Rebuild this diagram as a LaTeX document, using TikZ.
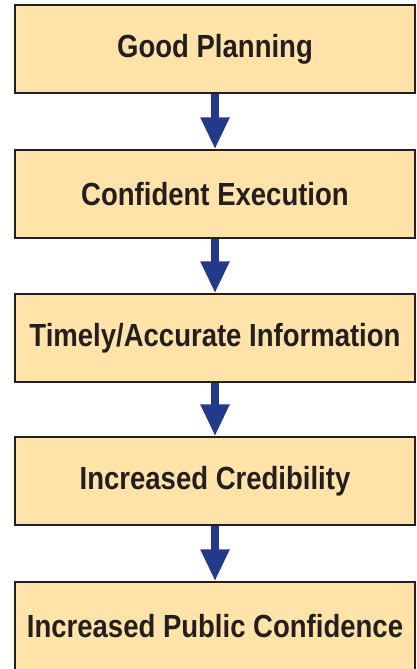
\documentclass[tikz,border=0pt]{standalone}
\usepackage{fontspec}
\setmainfont{Liberation Sans}[FakeStretch=0.86]
\usepackage{xcolor}
\usetikzlibrary{arrows.meta}
\definecolor{boxfill}{HTML}{FFE3A9}
\definecolor{boxline}{HTML}{231F20}
\definecolor{flow}{HTML}{233A8C}
\tikzset{
  stage/.style={draw=boxline, fill=boxfill, line width=1.3pt, minimum width=400pt,
    minimum height=88pt, inner sep=0pt, font=\fontsize{32}{36}\selectfont\bfseries, text=boxline},
  lead/.style={draw=flow, line width=8pt, -{Triangle[length=32pt,width=27pt]}},
}
\begin{document}
\begin{tikzpicture}[x=1pt,y=1pt]
  \useasboundingbox (0,0) rectangle (417,-669);

  \node[stage] (plan) at (215,-49)  {Good Planning};
  \node[stage] (exec) at (215,-194) {Confident Execution};
  \node[stage] (info) at (215,-338) {Timely/Accurate Information};
  \node[stage] (cred) at (215,-481) {Increased Credibility};
  \node[stage] (conf) at (215,-626) {Increased Public Confidence};

  \draw[lead] (plan.south) -- (exec.north);
  \draw[lead] (exec.south) -- (info.north);
  \draw[lead] (info.south) -- (cred.north);
  \draw[lead] (cred.south) -- (conf.north);
\end{tikzpicture}
\end{document}
